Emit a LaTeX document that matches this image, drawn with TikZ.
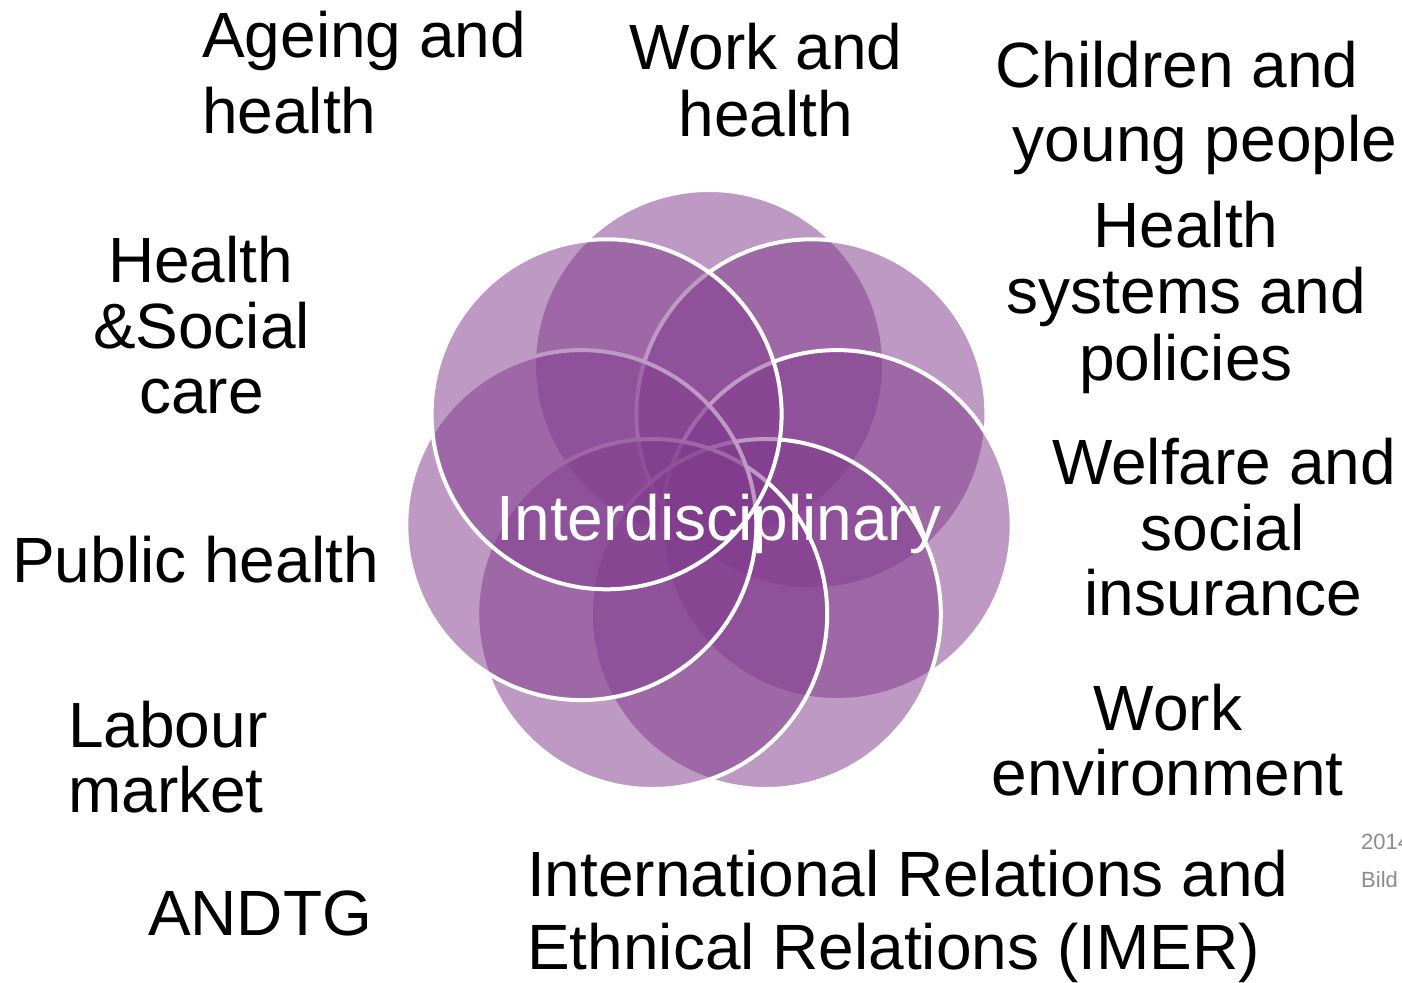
\documentclass[tikz,border=0pt]{standalone}
\usepackage{fontspec}
\setmainfont{Liberation Sans}
\definecolor{vennpurple}{RGB}{130,60,142}
\definecolor{notegray}{RGB}{140,140,140}
\begin{document}
\begin{tikzpicture}[x=1pt,y=-1pt,
  vcircle/.style={circle, inner sep=0pt, minimum size=350pt, fill=vennpurple,
    fill opacity=0.52, draw=white, draw opacity=1, line width=4pt},
  lbl/.style={font=\fontsize{64}{76}\selectfont, inner sep=0pt, anchor=base, text=black},
  lblw/.style={lbl, anchor=base west},
  note/.style={font=\fontsize{22}{26}\selectfont, inner sep=0pt, anchor=base west, text=notegray}]
\useasboundingbox (0,0) rectangle (1402,982);
\fill[white] (0,0) rectangle (1402,982);
% circles
\node[vcircle] (cA) at (709.0,365.0) {};
\node[vcircle] (cB) at (811.4,414.3) {};
\node[vcircle] (cC) at (836.7,525.1) {};
\node[vcircle] (cD) at (765.8,614.0) {};
\node[vcircle] (cE) at (652.2,614.0) {};
\node[vcircle] (cF) at (581.3,525.1) {};
\node[vcircle] (cG) at (606.6,414.3) {};
\node[lbl, text=white] (inter) at (719,540) {Interdisciplinary};
% labels
\node[lblw] (age1) at (202,57) {Ageing and};
\node[lblw] (age2) at (202,133) {health};
\node[lbl] (wh1) at (766,70) {Work and};
\node[lbl] (wh2) at (766,136) {health};
\node[lbl] (ch1) at (1177,88) {Children and};
\node[lbl] (ch2) at (1205,161) {young people};
\node[lbl] (hs1) at (1186,247) {Health};
\node[lbl] (hs2) at (1186.5,313) {systems and};
\node[lbl] (hs3) at (1186,380) {policies};
\node[lbl] (wf1) at (1224,484) {Welfare and};
\node[lbl] (wf2) at (1222.5,550) {social};
\node[lbl] (wf3) at (1223.5,615) {insurance};
\node[lbl] (we1) at (1168,730) {Work};
\node[lbl] (we2) at (1167.5,795) {environment};
\node[lblw] (im1) at (527,896) {International Relations and};
\node[lblw] (im2) at (527,969) {Ethnical Relations (IMER)};
\node[lbl] (andtg) at (260,935) {ANDTG};
\node[lblw] (lm1) at (68,747) {Labour};
\node[lblw] (lm2) at (68,812) {market};
\node[lbl] (ph) at (195.5,582) {Public health};
\node[lbl] (hc1) at (200.5,282) {Health};
\node[lbl] (hc2) at (201.5,348) {\&Social};
\node[lbl] (hc3) at (201.5,413) {care};
\node[note] (n1) at (1361,849) {2014};
\node[note] (n2) at (1361,887) {Bild};
\end{tikzpicture}
\end{document}
